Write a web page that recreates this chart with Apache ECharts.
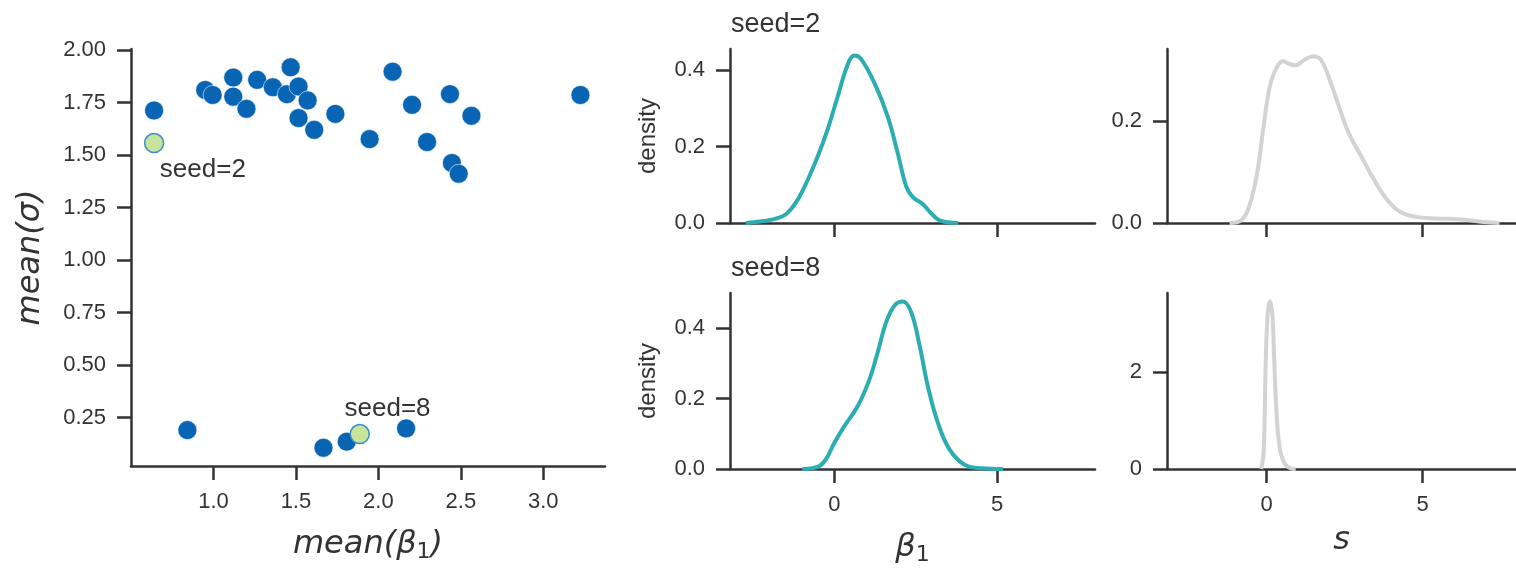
<!DOCTYPE html>
<html>
<head>
<meta charset="utf-8">
<script src="https://cdn.jsdelivr.net/npm/echarts@6.0.0/dist/echarts.min.js"></script>
<style>
html,body{margin:0;padding:0;background:#fff;}
#chart{width:1516px;height:568px;}
</style>
</head>
<body>
<div id="chart"></div>
<script>
// ---------- data ----------
const scatterX = [0.64, 0.95, 0.995, 1.12, 1.12, 1.20, 1.265, 1.36, 1.468, 1.445, 1.516, 1.516, 1.571, 1.611, 1.739, 1.947, 2.086, 2.204, 2.295, 2.434, 2.446, 2.487, 2.564, 3.225, 0.842, 1.667, 1.808, 2.168];
const scatterY = [1.712, 1.81, 1.786, 1.869, 1.778, 1.72, 1.858, 1.823, 1.918, 1.79, 1.826, 1.676, 1.76, 1.62, 1.696, 1.576, 1.897, 1.739, 1.562, 1.79, 1.462, 1.411, 1.687, 1.786, 0.19, 0.106, 0.135, 0.198];
const highlightX = [0.64, 1.887];
const highlightY = [1.557, 0.171];
const highlightLabels = ['seed=2', 'seed=8'];

const scatterXTicks = [1.0, 1.5, 2.0, 2.5, 3.0];
const scatterYTicks = [0.25, 0.50, 0.75, 1.00, 1.25, 1.50, 1.75, 2.00];
const densityXTicks = [0, 5];
const beta1YTicks = [0, 0.2, 0.4];
const sTopYTicks = [0, 0.2];
const sBottomYTicks = [0, 2];
const panelTitles = ['seed=2', 'seed=8'];

const beta1Seed2X = [-2.72, -2.16, -1.69, -1.44, -1.13, -0.82, -0.51, -0.21, 0.10, 0.41, 0.62, 0.82, 1.23, 1.64, 1.95, 2.21, 2.41, 2.72, 2.98, 3.23, 3.8];
const beta1Seed2Y = [0, 0.005, 0.014, 0.026, 0.06, 0.112, 0.174, 0.244, 0.33, 0.415, 0.439, 0.43, 0.367, 0.279, 0.182, 0.095, 0.068, 0.049, 0.025, 0.007, 0];

const beta1Seed8X = [-0.98, -0.51, -0.26, 0.0, 0.31, 0.72, 1.08, 1.33, 1.59, 1.85, 2.10, 2.36, 2.62, 2.87, 3.18, 3.54, 4.0, 4.52, 5.18];
const beta1Seed8Y = [0, 0.006, 0.027, 0.074, 0.122, 0.179, 0.255, 0.331, 0.417, 0.465, 0.476, 0.446, 0.35, 0.236, 0.131, 0.055, 0.012, 0.002, 0];

const sSeed2X = [-1.19, -0.82, -0.57, -0.31, -0.10, 0.10, 0.31, 0.52, 0.72, 0.93, 1.19, 1.49, 1.75, 2.06, 2.32, 2.63, 3.04, 3.45, 3.87, 4.28, 4.79, 5.41, 6.24, 6.96, 7.47];
const sSeed2Y = [0, 0.005, 0.031, 0.097, 0.189, 0.268, 0.304, 0.317, 0.312, 0.309, 0.319, 0.327, 0.319, 0.274, 0.228, 0.176, 0.13, 0.084, 0.045, 0.022, 0.012, 0.009, 0.007, 0.002, 0];

const sSeed8X = [-0.18, -0.10, -0.03, 0.03, 0.10, 0.18, 0.24, 0.31, 0.41, 0.57, 0.77, 0.93];
const sSeed8Y = [0, 0.33, 2.26, 3.2, 3.47, 3.2, 2.26, 1.23, 0.47, 0.12, 0.014, 0];

// ---------- styles ----------
const INK = '#333333';
const TICK_FONT = 22;
const SANS = 'Liberation Sans, Arial, sans-serif';
const BLUE = '#0865b3';
const GREEN = '#c6e59a';
const TEAL = '#2badb2';
const GRAY = '#d3d3d3';
const mathName = {
  fontFamily: 'DejaVu Sans', fontStyle: 'italic', fontSize: 32, color: INK,
  rich: { sub: { fontFamily: 'DejaVu Sans', fontStyle: 'normal', fontSize: 22, color: INK, padding: [15, 0, 0, 0] } }
};
const densityName = { color: INK, fontSize: 24, fontFamily: SANS };
const zip = (xs, ys) => xs.map((x, i) => [x, ys[i]]);

function axis(extra) {
  const base = {
    type: 'value',
    axisLine: { show: true, onZero: false, lineStyle: { color: INK, width: 2.5 } },
    axisTick: { show: true, length: 14, lineStyle: { color: INK, width: 2.5 } },
    splitLine: { show: false },
    axisLabel: { color: INK, fontSize: TICK_FONT, fontFamily: SANS, margin: 25 }
  };
  const out = Object.assign({}, base, extra);
  out.axisTick = Object.assign({}, base.axisTick, extra.axisTick || {});
  out.axisLabel = Object.assign({}, base.axisLabel, extra.axisLabel || {});
  return out;
}

const labelPositions = [[16, 37], [-5, -15]];

const option = {
  animation: false,
  backgroundColor: '#ffffff',
  title: [
    { text: panelTitles[0], left: 731, top: 11, padding: 0, textStyle: { fontSize: 27, fontWeight: 'normal', color: INK, fontFamily: SANS } },
    { text: panelTitles[1], left: 731, top: 255, padding: 0, textStyle: { fontSize: 27, fontWeight: 'normal', color: INK, fontFamily: SANS } }
  ],
  grid: [
    { left: 131, top: 49, width: 474, height: 420, containLabel: false },
    { left: 730, top: 49, width: 365, height: 174, containLabel: false },
    { left: 730, top: 293, width: 365, height: 176, containLabel: false },
    { left: 1167, top: 49, width: 365, height: 174, containLabel: false },
    { left: 1167, top: 293, width: 365, height: 176, containLabel: false }
  ],
  xAxis: [
    axis({ gridIndex: 0, min: 0.5, max: 3.374,
      name: 'mean(β{sub|1})', nameLocation: 'middle', nameGap: 60, nameTextStyle: mathName,
      axisTick: { customValues: scatterXTicks },
      axisLabel: { customValues: scatterXTicks, formatter: v => v.toFixed(1) } }),
    axis({ gridIndex: 1, min: -3.2, max: 8.0,
      axisTick: { customValues: densityXTicks },
      axisLabel: { show: false } }),
    axis({ gridIndex: 2, min: -3.2, max: 8.0,
      name: 'β{sub|1}', nameLocation: 'middle', nameGap: 60, nameTextStyle: mathName,
      axisTick: { customValues: densityXTicks },
      axisLabel: { customValues: densityXTicks, formatter: v => String(v) } }),
    axis({ gridIndex: 3, min: -3.2, max: 8.0,
      axisTick: { customValues: densityXTicks },
      axisLabel: { show: false } }),
    axis({ gridIndex: 4, min: -3.2, max: 8.0,
      name: 's', nameLocation: 'middle', nameGap: 56, nameTextStyle: mathName,
      axisTick: { customValues: densityXTicks },
      axisLabel: { customValues: densityXTicks, formatter: v => String(v) } })
  ],
  yAxis: [
    axis({ gridIndex: 0, min: 0.019, max: 2.005,
      name: 'mean(σ)', nameLocation: 'middle', nameGap: 84, nameTextStyle: mathName,
      axisTick: { customValues: scatterYTicks },
      axisLabel: { customValues: scatterYTicks, formatter: v => v.toFixed(2) } }),
    axis({ gridIndex: 1, min: 0, max: 0.456,
      name: 'density', nameLocation: 'middle', nameGap: 70, nameTextStyle: densityName,
      axisTick: { customValues: beta1YTicks },
      axisLabel: { customValues: beta1YTicks, formatter: v => v.toFixed(1) } }),
    axis({ gridIndex: 2, min: 0, max: 0.5005,
      name: 'density', nameLocation: 'middle', nameGap: 70, nameTextStyle: densityName,
      axisTick: { customValues: beta1YTicks },
      axisLabel: { customValues: beta1YTicks, formatter: v => v.toFixed(1) } }),
    axis({ gridIndex: 3, min: 0, max: 0.341,
      axisTick: { customValues: sTopYTicks },
      axisLabel: { customValues: sTopYTicks, formatter: v => v.toFixed(1) } }),
    axis({ gridIndex: 4, min: 0, max: 3.64,
      axisTick: { customValues: sBottomYTicks },
      axisLabel: { customValues: sBottomYTicks, formatter: v => String(v) } })
  ],
  series: [
    {
      type: 'scatter', xAxisIndex: 0, yAxisIndex: 0,
      data: zip(scatterX, scatterY),
      symbolSize: 19,
      itemStyle: { color: BLUE, borderColor: 'rgba(255,255,255,0.7)', borderWidth: 0.8, opacity: 1 }
    },
    {
      type: 'scatter', xAxisIndex: 0, yAxisIndex: 0,
      data: highlightX.map((x, i) => ({
        value: [x, highlightY[i]], name: highlightLabels[i],
        label: { position: labelPositions[i] }
      })),
      symbolSize: 19,
      itemStyle: { color: GREEN, borderColor: '#3d8ccc', borderWidth: 1.5, opacity: 1 },
      label: { show: true, formatter: p => p.name, color: INK, fontSize: 26,
        fontFamily: SANS, align: 'left', verticalAlign: 'middle' },
      z: 3
    },
    { type: 'line', xAxisIndex: 1, yAxisIndex: 1, data: zip(beta1Seed2X, beta1Seed2Y), smooth: 0.4, showSymbol: false, lineStyle: { color: TEAL, width: 4 } },
    { type: 'line', xAxisIndex: 2, yAxisIndex: 2, data: zip(beta1Seed8X, beta1Seed8Y), smooth: 0.4, showSymbol: false, lineStyle: { color: TEAL, width: 4 } },
    { type: 'line', xAxisIndex: 3, yAxisIndex: 3, data: zip(sSeed2X, sSeed2Y), smooth: 0.4, showSymbol: false, lineStyle: { color: GRAY, width: 4 } },
    { type: 'line', xAxisIndex: 4, yAxisIndex: 4, data: zip(sSeed8X, sSeed8Y), smooth: 0.4, showSymbol: false, lineStyle: { color: GRAY, width: 4 } }
  ]
};

const chart = echarts.init(document.getElementById('chart'), null, { renderer: 'canvas' });
chart.setOption(option);
</script>
</body>
</html>
